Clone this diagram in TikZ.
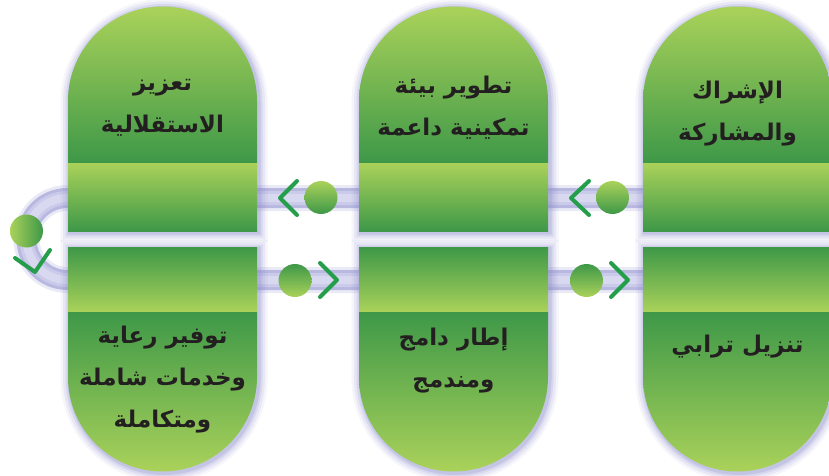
\documentclass[tikz,border=0pt]{standalone}
\usepackage{fontspec}
\newfontfamily\arabicfont[Script=Arabic]{DejaVu Sans}
\TeXXeTstate=1

\definecolor{lightg}{RGB}{170,210,90}
\definecolor{darkg}{RGB}{62,152,72}
\definecolor{chevc}{RGB}{36,158,74}
\definecolor{glowc}{RGB}{140,140,205}
\definecolor{tubeout}{RGB}{184,184,224}
\definecolor{tubemid}{RGB}{202,202,234}
\definecolor{tubein}{RGB}{216,216,240}
\definecolor{txt}{RGB}{35,31,32}

\begin{document}
\begin{tikzpicture}[x=1pt,y=1pt,
		steptext/.style={text=txt, font=\arabicfont\bfseries\fontsize{23}{42}\selectfont, align=center},
		dot/.style={circle, minimum size=33pt, inner sep=0pt},
		chev/.style={draw=chevc, line width=4pt, line cap=round, line join=round},
		track/.style={rounded corners=41pt}]
		\useasboundingbox (0,0) rectangle (829,475);
		% track behind the columns
		\draw[track, glowc, opacity=0.18, line width=26pt] (845,277) -- (26.5,277) -- (26.5,195) -- (845,195);
		\draw[track, tubeout, line width=20pt] (845,277) -- (26.5,277) -- (26.5,195) -- (845,195);
		\draw[track, tubemid, line width=14pt] (845,277) -- (26.5,277) -- (26.5,195) -- (845,195);
		\draw[track, tubein, line width=8pt] (845,277) -- (26.5,277) -- (26.5,195) -- (845,195);
		% glow round the columns
		\foreach \x in {68,359,643}{
			\foreach \w/\o in {18/0.09,13/0.13,8/0.18,4/0.25}{
				\draw[glowc, line width=\w pt, opacity=\o] (\x+1.5,242.5) -- ++(0,130) arc[start angle=180, end angle=0, radius=94.5pt] -- ++(0,-130) -- cycle;
				\draw[glowc, line width=\w pt, opacity=\o] (\x+1.5,226.5) -- ++(0,-130) arc[start angle=180, end angle=360, radius=94.5pt] -- ++(0,130) -- cycle;
			}
			\shade[top color=lightg, bottom color=darkg] (\x,312) -- ++(0,62) arc[start angle=180, end angle=0, radius=94.5pt] -- ++(0,-62) -- cycle;
			\shade[top color=lightg, bottom color=darkg] (\x,244) rectangle ++(189,68);
			\shade[top color=darkg, bottom color=lightg] (\x,163) rectangle ++(189,65);
			\shade[top color=darkg, bottom color=lightg] (\x,163) -- ++(0,-65) arc[start angle=180, end angle=360, radius=94.5pt] -- ++(0,65) -- cycle;
		}
		% texts
		\node[steptext] (s1) at (162.5,367) {\beginR تعزيز\endR\\\beginR الاستقلالية\endR};
		\node[steptext] (s2) at (453.5,367) {\beginR تطوير بيئة\endR\\\beginR تمكينية داعمة\endR};
		\node[steptext] (s3) at (737.5,361) {\beginR الإشراك\endR\\\beginR والمشاركة\endR};
		\node[steptext] (s4) at (162.5,95) {\beginR توفير رعاية\endR\\\beginR وخدمات شاملة\endR\\\beginR ومتكاملة\endR};
		\node[steptext] (s5) at (453.5,114) {\beginR إطار دامج\endR\\\beginR ومندمج\endR};
		\node[steptext] (s6) at (737.5,128) {\beginR تنزيل ترابي\endR};
		% dots on the track
		\node[dot, top color=lightg, bottom color=darkg] (d1) at (321,277.5) {};
		\node[dot, top color=lightg, bottom color=darkg] (d2) at (612.5,277.5) {};
		\node[dot, top color=darkg, bottom color=lightg] (d3) at (295,194.5) {};
		\node[dot, top color=darkg, bottom color=lightg] (d4) at (586.5,194.5) {};
		\node[dot, left color=lightg, right color=darkg] (d0) at (26.5,244) {};
		% chevrons
		\draw[chev] (297,294) -- (280,277) -- (297,260);
		\draw[chev] (589,294) -- (571,277) -- (589,260);
		\draw[chev] (320,212) -- (337,195) -- (320,178);
		\draw[chev] (611,212) -- (628,195) -- (611,178);
		\draw[chev] (15,217) -- (35,203) -- (50,225);
	\end{tikzpicture}
\end{document}
